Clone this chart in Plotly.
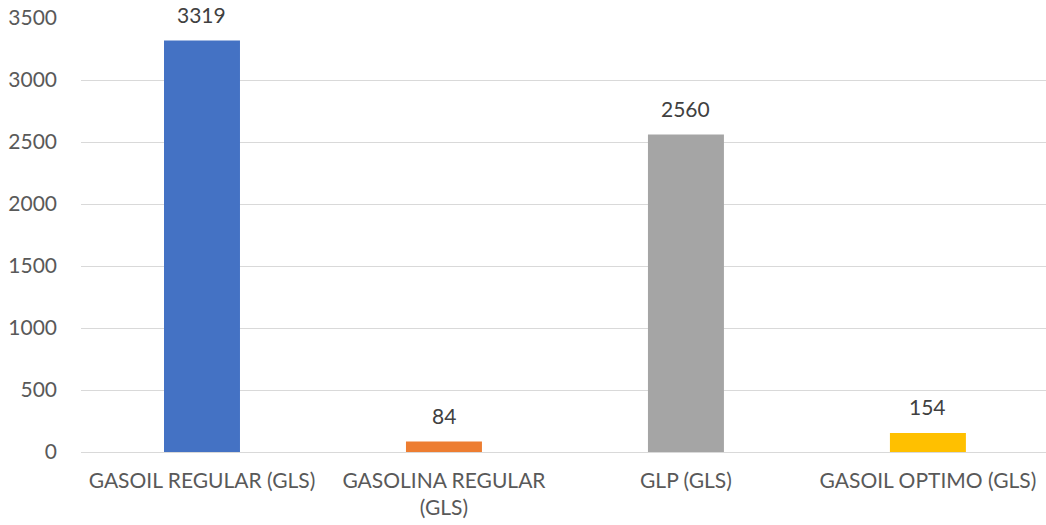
import plotly.graph_objects as go

categories = ["GASOIL REGULAR (GLS)", "GASOLINA REGULAR<br>(GLS)", "GLP (GLS)", "GASOIL OPTIMO (GLS)"]
values = [3319, 84, 2560, 154]
colors = ["#4472C4", "#ED7D31", "#A5A5A5", "#FFC000"]
y_ticks = [0, 500, 1000, 1500, 2000, 2500, 3000, 3500]

FONT = "Lato"
FS = 21

fig = go.Figure()
fig.add_trace(go.Bar(
    x=categories, y=values, marker=dict(color=colors, line=dict(width=0)),
    width=0.314, hoverinfo="skip",
))

for c, v in zip(categories, values):
    fig.add_annotation(x=c, y=v, text=str(v), showarrow=False, yanchor="middle",
                       yshift=26, font=dict(family=FONT, size=FS, color="#404040"))

fig.update_layout(
    width=1046, height=525,
    margin=dict(l=81, r=0, t=18, b=73, autoexpand=False),
    paper_bgcolor="white", plot_bgcolor="white",
    showlegend=False,
    font=dict(family=FONT, size=FS, color="#595959"),
)
fig.update_xaxes(range=[-0.5, 3.488], showgrid=False, showline=False, zeroline=False,
                 automargin=False, ticks="", ticklabelstandoff=14,
                 tickfont=dict(size=FS, color="#595959"))
fig.update_yaxes(range=[0, 3500], tickvals=y_ticks, showgrid=True, gridcolor="#D9D9D9",
                 gridwidth=1, zeroline=True, zerolinecolor="#D9D9D9", zerolinewidth=1,
                 showline=False, automargin=False, ticks="", ticklabelstandoff=23,
                 tickfont=dict(size=FS, color="#595959"))

fig.write_html("out.html", config={"displayModeBar": False, "staticPlot": True},
               post_script="document.body.style.margin='0';")
